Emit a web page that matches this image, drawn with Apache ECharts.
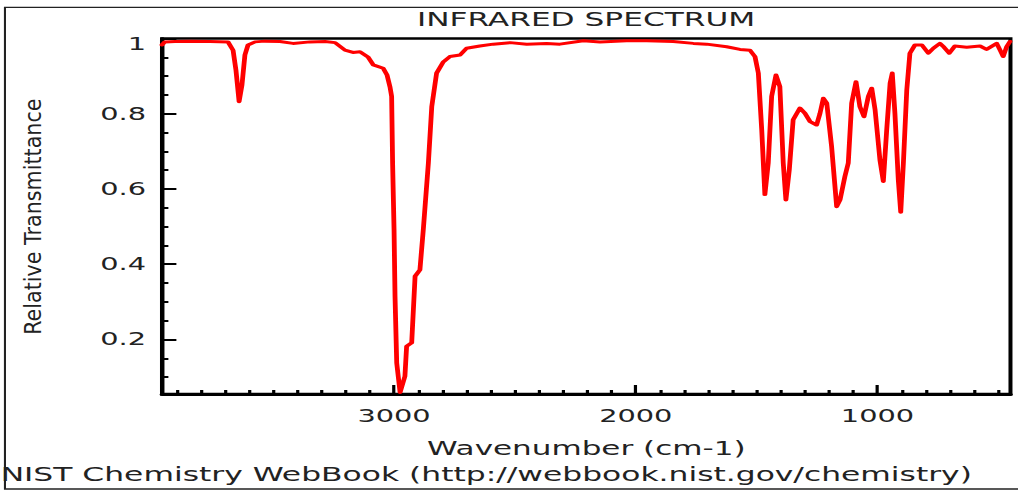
<!DOCTYPE html>
<html style="height: 100%">
<head>
<meta charset="utf-8">
<script type="text/javascript" src="https://cdn.jsdelivr.net/npm/echarts@6/dist/echarts.min.js"></script>
</head>
<body style="height: 100%; margin: 0; overflow: hidden; background: #fff">
<!-- the reference is a horizontally stretched bitmap, so the chart is drawn narrow and stretched -->
<div id="container" style="width: 636px; height: 491px; transform: scaleX(1.60063); transform-origin: 0 0"></div>
<script type="text/javascript">
var wavenumber = [3960, 3948, 3906, 3844, 3761, 3687, 3666, 3654, 3641, 3629, 3617, 3604, 3575, 3534, 3472, 3418,
	3348, 3286, 3244, 3203, 3170, 3141, 3108, 3086, 3045, 3029, 3017, 3010, 3006, 3000, 2996, 2989, 2975, 2955,
	2948, 2927, 2913, 2893, 2879, 2858, 2844, 2824, 2796, 2769, 2727, 2700, 2645, 2590, 2520, 2451, 2369, 2314,
	2217, 2148, 2038, 1955, 1845, 1762, 1707, 1624, 1569, 1528, 1507, 1493, 1479, 1466, 1452, 1438, 1420, 1404,
	1390, 1379, 1365, 1349, 1321, 1300, 1279, 1252, 1238, 1224, 1210, 1190, 1169, 1155, 1135, 1121, 1107, 1089,
	1073, 1056, 1038, 1024, 1010, 990, 976, 962, 948, 939, 928, 914, 904, 893, 879, 866, 845, 817, 790, 769, 742,
	725, 703, 680, 631, 576, 549, 507, 493, 480, 466, 452];
var transmittance = [0.983, 0.991, 0.992, 0.993, 0.992, 0.991, 0.969, 0.916, 0.832, 0.877, 0.956, 0.983, 0.991, 0.993, 0.992, 0.987,
	0.991, 0.992, 0.989, 0.969, 0.963, 0.965, 0.951, 0.930, 0.921, 0.903, 0.872, 0.846, 0.669, 0.492, 0.315, 0.138, 0.059, 0.102,
	0.182, 0.191, 0.368, 0.385, 0.492, 0.669, 0.819, 0.908, 0.938, 0.952, 0.956, 0.974, 0.980, 0.985, 0.989, 0.985, 0.987, 0.985,
	0.994, 0.991, 0.994, 0.994, 0.992, 0.987, 0.985, 0.978, 0.971, 0.969, 0.952, 0.908, 0.757, 0.585, 0.669, 0.846, 0.903, 0.872,
	0.669, 0.571, 0.651, 0.784, 0.815, 0.801, 0.779, 0.770, 0.801, 0.841, 0.828, 0.713, 0.553, 0.571, 0.633, 0.669, 0.828, 0.885,
	0.819, 0.792, 0.846, 0.868, 0.810, 0.677, 0.620, 0.757, 0.881, 0.908, 0.801, 0.624, 0.538, 0.669, 0.863, 0.961, 0.983, 0.983, 0.961, 0.974, 0.987,
	0.977, 0.961, 0.980, 0.977, 0.980, 0.971, 0.987, 0.969, 0.952, 0.978, 0.992];
var xMajorTicks = [1000, 2000, 3000];
var xMinorTicks = [500, 600, 700, 800, 900, 1100, 1200, 1300, 1400, 1500, 1600, 1700, 1800, 1900, 2100, 2200, 2300,
	2400, 2500, 2600, 2700, 2800, 2900, 3100, 3200, 3300, 3400, 3500, 3600, 3700, 3800, 3900];
var yMajorTicks = [0.2, 0.4, 0.6, 0.8, 1];
var yMinorTicks = [0.1, 0.15, 0.25, 0.3, 0.35, 0.45, 0.5, 0.55, 0.65, 0.7, 0.75, 0.85, 0.9, 0.95];

var font = 'DejaVu Sans';
var ink = '#222';

var points = [];
for (var i = 0; i < wavenumber.length; i++) {
	points.push([wavenumber[i], transmittance[i]]);
}

var myChart = echarts.init(document.getElementById('container'), null, {renderer: 'svg'});
var option = {
	animation: false,
	backgroundColor: '#fff',
	title: {
		text: 'INFRARED SPECTRUM',
		left: 260.5, top: 9, padding: 0,
		textStyle: {fontFamily: font, fontSize: 19.5, fontWeight: 'normal', color: ink}
	},
	graphic: [
		{type: 'rect', z: -1, shape: {x: 3.1, y: 7.3, width: 700, height: 481.7},
			style: {fill: 'none', stroke: ink, lineWidth: 1.3}},
		{type: 'text', left: 0.4, top: 464.5,
			style: {text: 'NIST Chemistry WebBook (http://webbook.nist.gov/chemistry)', font: '19.6px "DejaVu Sans"', fill: ink}},
		// y axis title, drawn long and thin like the reference
		{type: 'text', x: 20.4, y: 216.7, rotation: Math.PI / 2, scaleX: 1.445,
			style: {text: 'Relative Transmittance', font: '14.3px "DejaVu Sans"', fill: ink, align: 'center', verticalAlign: 'middle'}}
	],
	grid: {left: 101.2, right: 4.7, top: 38.5, bottom: 97, show: true, borderColor: '#000', borderWidth: 2.5, backgroundColor: 'transparent'},
	xAxis: [{
		type: 'value', min: 450, max: 3960, inverse: true,
		name: 'Wavenumber (cm-1)', nameLocation: 'middle', nameGap: 45,
		nameTextStyle: {fontFamily: font, fontSize: 19.4, color: ink},
		axisLine: {lineStyle: {color: '#000', width: 3}},
		axisTick: {inside: true, length: 9, customValues: xMajorTicks, lineStyle: {color: '#000', width: 2}},
		axisLabel: {customValues: xMajorTicks, margin: 13, fontFamily: font, fontSize: 18, color: ink,
			formatter: function (v) { return String(v); }},
		splitLine: {show: false}
	}, {
		type: 'value', min: 450, max: 3960, inverse: true, position: 'bottom',
		axisLine: {show: false},
		axisTick: {inside: true, length: 4, customValues: xMinorTicks, lineStyle: {color: '#000', width: 2}},
		axisLabel: {show: false},
		splitLine: {show: false}
	}],
	yAxis: [{
		type: 'value', min: 0.055, max: 1, position: 'left',
		axisLine: {show: true, lineStyle: {color: '#000', width: 2.5}},
		axisTick: {inside: true, length: 9, customValues: yMajorTicks, lineStyle: {color: '#000', width: 2}},
		axisLabel: {
			customValues: yMajorTicks, margin: 10, fontFamily: font, fontSize: 18, color: ink,
			formatter: function (v) { return v === 1 ? '{t|1}' : String(v); },
			rich: {t: {fontFamily: font, fontSize: 18, color: ink, padding: [10, 0, 0, 0]}}
		},
		splitLine: {show: false}
	}, {
		type: 'value', min: 0.055, max: 1, position: 'left',
		axisLine: {show: false},
		axisTick: {inside: true, length: 4, customValues: yMinorTicks, lineStyle: {color: '#000', width: 2}},
		axisLabel: {show: false},
		splitLine: {show: false}
	}],
	series: [{
		type: 'line',
		data: points,
		showSymbol: false,
		lineStyle: {color: '#ff0000', width: 3, join: 'round', cap: 'round'}
	}]
};
myChart.setOption(option);
</script>
</body>
</html>
